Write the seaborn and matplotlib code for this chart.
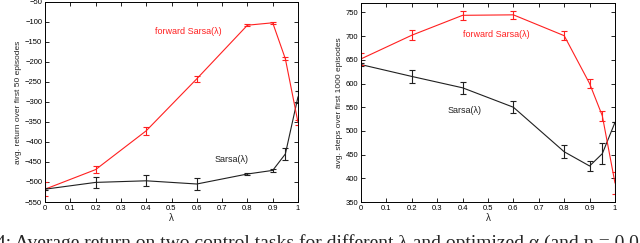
import matplotlib
matplotlib.use("Agg")
import matplotlib.pyplot as plt
import seaborn as sns
import pandas as pd

lambdas = [0, 0.2, 0.4, 0.6, 0.8, 0.9, 0.95, 1.0]

# left panel: avg. return over first 50 episodes
ret_fwd = [-518, -469, -372, -242, -108, -102, -192, -351]
ret_fwd_err = [17, 8, 10, 7, 3, 2, 4, 6]
ret_sarsa = [-518, -501, -497, -505, -480, -471, -430, -287]
ret_sarsa_err = [3, 14, 14, 15, 3, 4, 15, 15]

# right panel: avg. steps over first 1000 episodes
steps_fwd = [652, 702, 744, 745, 701, 600, 532, 390]
steps_fwd_err = [12, 10, 10, 8, 9, 10, 10, 24]
steps_sarsa = [640, 615, 591, 550, 456, 426, 452, 518]
steps_sarsa_err = [3, 13, 13, 13, 14, 11, 22, 0]

caption = "4: Average return on two control tasks for different \u03bb and optimized \u03b1 (and \u03b7 = 0.01"

sns.set_style("white")
plt.rcParams["font.family"] = ["Liberation Sans", "DejaVu Sans"]
plt.rcParams["axes.linewidth"] = 0.7

RED = "#ff2020"
BLK = "#202020"


def panel(ax, fwd, fwd_err, sarsa, sarsa_err):
    df = pd.DataFrame({"lam": lambdas, "fwd": fwd, "sarsa": sarsa})
    sns.lineplot(data=df, x="lam", y="sarsa", color=BLK, lw=0.8, ax=ax)
    sns.lineplot(data=df, x="lam", y="fwd", color=RED, lw=0.8, ax=ax)
    ax.errorbar(lambdas, sarsa, yerr=sarsa_err, fmt="none", ecolor=BLK,
                elinewidth=0.8, capsize=2.5, capthick=0.8)
    ax.errorbar(lambdas, fwd, yerr=fwd_err, fmt="none", ecolor=RED,
                elinewidth=0.8, capsize=2.5, capthick=0.8)
    ax.set_xlim(0, 1)
    ax.set_xticks([0, 0.1, 0.2, 0.3, 0.4, 0.5, 0.6, 0.7, 0.8, 0.9, 1])
    ax.set_xticklabels(["0", "0.1", "0.2", "0.3", "0.4", "0.5", "0.6", "0.7", "0.8", "0.9", "1"])
    ax.tick_params(direction="in", length=3, width=0.6, labelsize=5.5, pad=2,
                   top=True, right=True, bottom=True, left=True, colors="black")
    ax.set_xlabel("\u03bb", fontsize=7, labelpad=1)
    for s in ax.spines.values():
        s.set_color("black")


fig = plt.figure(figsize=(6.4, 2.43), dpi=100)
ax1 = fig.add_axes([45 / 640, 1 - 202 / 243, 253 / 640, 200 / 243])
ax2 = fig.add_axes([361 / 640, 1 - 202 / 243, 254 / 640, 199 / 243])

panel(ax1, ret_fwd, ret_fwd_err, ret_sarsa, ret_sarsa_err)
ax1.set_ylim(-550, -50)
ax1.set_yticks(range(-550, 0, 50))
ax1.set_ylabel("avg. return over first 50 episodes", fontsize=6, labelpad=2)
ax1.text(0.435, -125, "forward Sarsa(\u03bb)", color=RED, fontsize=6.5, va="center")
ax1.text(0.67, -443, "Sarsa(\u03bb)", color=BLK, fontsize=6.5, va="center")

panel(ax2, steps_fwd, steps_fwd_err, steps_sarsa, steps_sarsa_err)
ax2.set_ylim(350, 770)
ax2.set_yticks(range(350, 760, 50))
ax2.set_ylabel("avg. steps over first 1000 episodes", fontsize=6, labelpad=2)
ax2.text(0.40, 704, "forward Sarsa(\u03bb)", color=RED, fontsize=6.5, va="center")
ax2.text(0.34, 544, "Sarsa(\u03bb)", color=BLK, fontsize=6.5, va="center")

# caption runs off the bottom edge, as in the reference
fig.text(-0.006, 1 - 234 / 243, caption, fontsize=14, va="top", ha="left",
         family=["Liberation Serif", "DejaVu Serif"])

fig.savefig("out.png", dpi=100)
